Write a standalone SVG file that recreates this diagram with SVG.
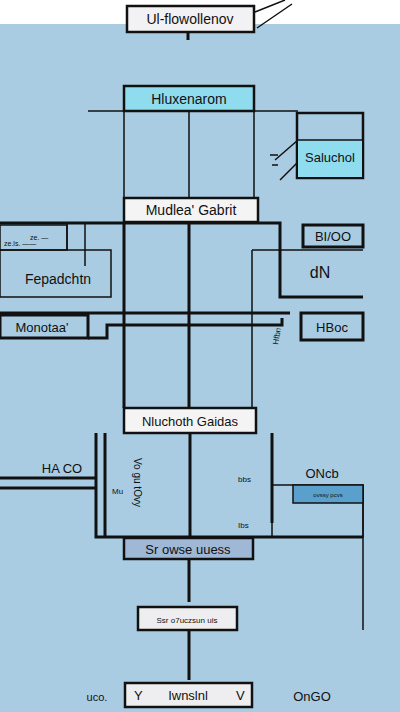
<svg xmlns="http://www.w3.org/2000/svg" width="400" height="712" viewBox="0 0 400 712">
<style>
.t{font-family:"Liberation Sans",Arial,sans-serif;fill:#111;}
.box{stroke:#111;stroke-width:2.5;}
.thin{stroke:#111;stroke-width:1.5;fill:none;}
.thick{stroke:#111;stroke-width:3;fill:none;}
</style>
<rect x="0" y="0" width="400" height="712" fill="#a9cce2"/>
<rect x="0" y="0" width="400" height="24" fill="#ffffff"/>
<g id="connectors">
<path class="thin" d="M255 12 L285 0 M257 28 L292 4"/>
<path class="thick" d="M188 32 V40"/>
<path class="thin" d="M88 111 H298"/>
<path class="thin" d="M124 111 V198 M189 111 V198 M254 111 V198"/>
<path class="thin" d="M298 140 L275 160 M280 180 L298 162 M270 155 h8 M272 165 h6"/>
<path class="thick" d="M0 223 H280 V297 H363"/>
<path class="thin" d="M67 223 V250 M85 223 V266 M252 250 H363 M252 250 V408"/>
<path class="thick" d="M124 222 V408 M189 222 V408"/>
<path class="thick" d="M0 313 H290"/>
<path class="thick" d="M88 338 H107 V325 H282 V318"/>
<path class="thick" d="M0 478 H96 M0 488 H96"/>
<path class="thick" d="M96 433 V537 H363 M105 433 V537 M190 433 V537 M272 433 V523"/>
<path class="thin" d="M363 485 V630"/>
<path class="thick" d="M189 559 V602"/>
<path class="thick" d="M189 630 V680"/>
</g>
<g id="n1"><rect class="box" x="127" y="6" width="127" height="26" fill="#f2f2f4"/><text class="t" x="190" y="24" font-size="14" text-anchor="middle">Ul-flowollenov</text></g>
<g id="n2"><rect class="box" x="124" y="86" width="130" height="25" fill="#8fdcef"/><text class="t" x="189" y="104" font-size="14" text-anchor="middle">Hluxenarom</text></g>
<g id="n3"><rect class="box" x="297" y="113" width="66" height="65" fill="#a9cce2"/><rect x="298" y="140" width="64" height="37" fill="#8fdcef"/><path class="thin" d="M297 140 H363"/><text class="t" x="330" y="162" font-size="13" text-anchor="middle">Saluchol</text></g>
<g id="n4"><rect class="box" x="124" y="198" width="134" height="24" fill="#f4f4f4"/><text class="t" x="191" y="215" font-size="14" text-anchor="middle">Mudlea' Gabrit</text></g>
<g id="n5"><rect class="thin" x="0" y="225" width="67" height="25" fill="#f2e8ee"/><text class="t" x="30" y="240" font-size="7">ze. —</text><text class="t" x="4" y="246" font-size="7">ze.ls. ——</text></g>
<g id="n6"><rect class="thin" x="0" y="250" width="111" height="47" fill="#a9cce2"/><text class="t" x="58" y="284" font-size="14" text-anchor="middle">Fepadchtn</text></g>
<g id="n7"><rect class="thick" x="303" y="225" width="60" height="22" fill="#e6e8ea"/><text class="t" x="333" y="241" font-size="13" text-anchor="middle">BI/OO</text></g>
<g id="n8"><text class="t" x="320" y="278" font-size="16" text-anchor="middle">dN</text></g>
<g id="n9"><rect class="thick" x="0" y="315" width="88" height="23" fill="#eeeef0"/><text class="t" x="42" y="332" font-size="13" text-anchor="middle">Monotaa'</text></g>
<g id="n10"><rect class="thick" x="301" y="313" width="62" height="27" fill="#e8e8ea"/><text class="t" x="332" y="332" font-size="13" text-anchor="middle">HBoc</text><text class="t" font-size="8" transform="translate(278 345) rotate(-80)">Hfbn</text></g>
<g id="n11"><rect class="box" x="124" y="408" width="132" height="25" fill="#f4f4f4"/><text class="t" x="190" y="426" font-size="13" text-anchor="middle">Nluchoth Gaidas</text></g>
<g id="n12"><text class="t" x="62" y="473" font-size="13" text-anchor="middle">HA CO</text><text class="t" x="112" y="494" font-size="8">Mu</text><text class="t" font-size="10" transform="translate(134 458) rotate(90)">Vo gu tOvy</text><text class="t" x="238" y="482" font-size="8">bbs</text><text class="t" x="238" y="528" font-size="8">Ibs</text></g>
<g id="n13"><text class="t" x="322" y="478" font-size="13" text-anchor="middle">ONcb</text><rect class="thin" x="272" y="485" width="91" height="52" fill="none"/><rect x="293" y="485" width="70" height="18" fill="#5aa0cc" stroke="#111" stroke-width="1.5"/><text class="t" x="328" y="497" font-size="6" text-anchor="middle">ovssy pcvs</text></g>
<g id="n14"><rect class="box" x="124" y="538" width="129" height="21" fill="#9fb8d6"/><text class="t" x="188" y="554" font-size="13" text-anchor="middle">Sr owse uuess</text></g>
<g id="n15"><rect class="box" x="138" y="607" width="99" height="23" fill="#eeeef0"/><text class="t" x="187" y="623" font-size="8" text-anchor="middle">Ssr o7uczsun uis</text></g>
<g id="n16"><rect class="box" x="125" y="683" width="127" height="24" fill="#eeeef0"/><text class="t" x="134" y="700" font-size="13" fill="#5a1a10">Y</text><text class="t" x="188" y="700" font-size="13" text-anchor="middle">Iwnslnl</text><text class="t" x="236" y="700" font-size="13">V</text></g>
<g id="n17"><text class="t" x="97" y="701" font-size="11" text-anchor="middle">uco.</text><text class="t" x="312" y="701" font-size="13" text-anchor="middle">OnGO</text></g>
</svg>
